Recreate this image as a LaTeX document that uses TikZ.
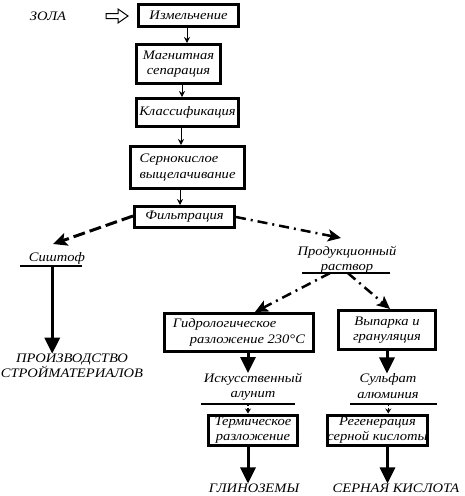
\documentclass[tikz,border=0pt]{standalone}
\usepackage{fontspec}
\setmainfont{Liberation Serif}[FakeStretch=1.12]
\usetikzlibrary{arrows.meta,calc}
\begin{document}
\begin{tikzpicture}[x=1pt,y=-1pt,
  every node/.style={font=\itshape\fontsize{13}{15.5}\selectfont, inner sep=0pt, align=center},
  box/.style={draw, line width=3pt},
  thinarr/.style={line width=1pt, -{Stealth[length=6pt,width=6pt]}},
  bigarr/.style={line width=3pt, -{Triangle[length=16pt,width=15pt]}},
  uline/.style={line width=2.5pt},
  dasharr/.style={line width=3pt, dash pattern=on 12pt off 5pt, -{Stealth[length=14pt,width=13pt,inset=3pt]}},
  ddarr/.style={line width=2.5pt, dash pattern=on 10pt off 5pt on 2pt off 5pt, -{Stealth[length=13pt,width=12pt,inset=3pt]}},
  dotarr/.style={line width=1.5pt, dash pattern=on 2pt off 1.5pt, -{Stealth[length=5pt,width=6pt]}}
]
\useasboundingbox (0,0) rectangle (465,496);

% main column
\node (zola) at (48,16) {ЗОЛА};
\draw[line width=1pt] (106,13.5) -- (118,13.5) -- (118,9) -- (128,16) -- (118,23) -- (118,18.5) -- (106,18.5) -- cycle;

\node[box, minimum width=100, minimum height=22] (b1) at (188.5,15.5) {Измельчение};
\node[box, minimum width=84, minimum height=39] (b2) at (178.5,64) {Магнитная\\сепарация};
\node[box, minimum width=102, minimum height=28] (b3) at (187.5,112.5) {Классификация};
\node[box, minimum width=114, minimum height=42, align=left] (b4) at (187.5,167.5) {Сернокислое\\выщелачивание};
\node[box, minimum width=100, minimum height=21] (b5) at (184.5,217) {Фильтрация};

\draw[thinarr] ([xshift=-1.5pt]b1.south) -- ([xshift=-1.5pt]b1.south |- b2.north);
\draw[thinarr] ([xshift=3.5pt]b2.south) -- ([xshift=3.5pt]b2.south |- b3.north);
\draw[thinarr] ([xshift=-6.5pt]b3.south) -- ([xshift=-6.5pt]b3.south |- b4.north);
\draw[thinarr] ([xshift=-7.5pt]b4.south) -- ([xshift=-7.5pt]b4.south |- b5.north);

% left branch
\coordinate (stip) at (53,244);
\draw[dasharr] ([yshift=1pt]b5.west) -- (stip);
\node (sish) at (57,258) {Сиштоф};
\coordinate (sl) at (20,266);
\coordinate (sr) at (82,266);
\draw[uline] (sl) -- (sr);
\node (stroy) at (72,366) {ПРОИЗВОДСТВО\\СТРОЙМАТЕРИАЛОВ};
\coordinate (sm) at ($(sl)!0.52!(sr)$);
\draw[bigarr] (sm) -- (sm |- stroy.north);

% right branch
\coordinate (ptip) at (341,238);
\draw[ddarr] (b5.east) -- (ptip);
\node (psol) at (347,260) {Продукционный\\раствор};
\coordinate (pl) at (302,273);
\coordinate (pr) at (390,273);
\draw[uline] (pl) -- (pr);

\node[box, minimum width=149, minimum height=38, align=left] (b6) at (239,332.5) {Гидрологическое\\\hspace*{1.3em}разложение 230°C};
\node[box, minimum width=97, minimum height=39] (b7) at (387,330) {Выпарка и\\грануляция};

\coordinate (pm1) at ($(pl)!0.32!(pr)$);
\coordinate (pm2) at ($(pl)!0.52!(pr)$);
\draw[ddarr] (pm1) -- ([xshift=16pt]b6.north);
\draw[ddarr] (pm2) -- ([xshift=3pt]b7.north);

\node (alun) at (253,387) {Искусственный\\алунит};
\node (sulf) at (388,386) {Сульфат\\алюминия};
\draw[bigarr] ([xshift=9pt]b6.south) -- ([xshift=9pt]b6.south |- alun.north);
\draw[bigarr] (b7.south) -- (b7.south |- sulf.north);

\coordinate (al) at (201,404);
\coordinate (ar) at (295,404);
\draw[uline] (al) -- (ar);
\coordinate (bl) at (350,404);
\coordinate (br) at (437,404);
\draw[uline] (bl) -- (br);

\node[box, minimum width=89, minimum height=30] (b8) at (253,430) {Термическое\\разложение};
\node[box, minimum width=96, minimum height=30] (b9) at (377.5,430) {Регенерация\\серной кислоты};

\coordinate (am) at ($(al)!0.5!(ar)$);
\coordinate (bm) at ($(bl)!0.44!(br)$);
\draw[dotarr] (am) -- (am |- b8.north);
\draw[dotarr] (bm) -- (bm |- b9.north);

\node (glin) at (254,488) {ГЛИНОЗЕМЫ};
\node (serk) at (396,488) {СЕРНАЯ КИСЛОТА};
\draw[bigarr] ([xshift=-5pt]b8.south) -- ([xshift=-5pt]b8.south |- glin.north);
\draw[bigarr] ([xshift=10pt]b9.south) -- ([xshift=10pt]b9.south |- serk.north);
\end{tikzpicture}
\end{document}
